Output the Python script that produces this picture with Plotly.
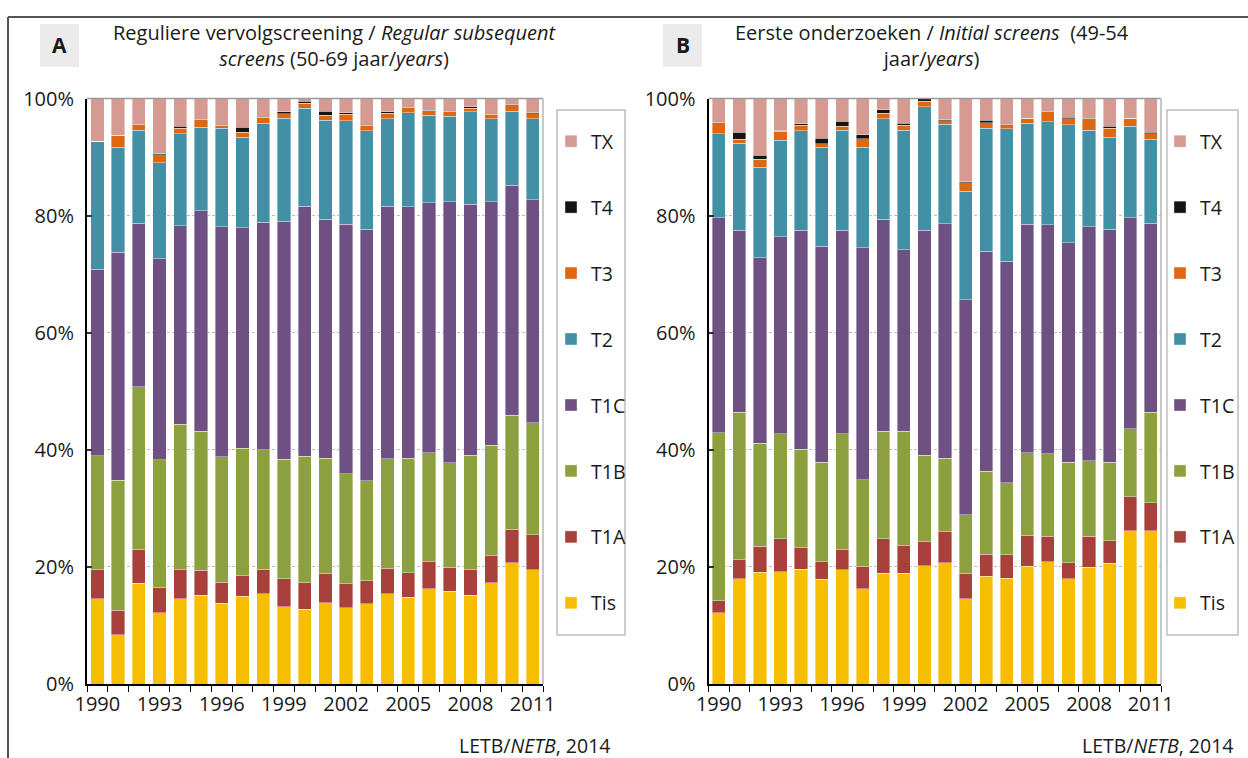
import plotly.graph_objects as go

YEARS = list(range(1990, 2012))
TICK_YEARS = [1990, 1993, 1996, 1999, 2002, 2005, 2008, 2011]
Y_TICKS = [0, 20, 40, 60, 80, 100]
Y_TICKTEXT = ["0%", "20%", "40%", "60%", "80%", "100%"]
CATS = ["Tis", "T1A", "T1B", "T1C", "T2", "T3", "T4", "TX"]
COLORS = ["#F5BE00", "#A8403C", "#8DA03F", "#6E5082", "#4390A6", "#DE6712", "#141414", "#D59B93"]

# Panel A: Regular subsequent screens (percent)
A_TIS = [14.6, 8.4, 17.2, 12.2, 14.6, 15.2, 13.8, 15.0, 15.4, 13.2, 12.8, 13.9, 13.0, 13.7, 15.4, 14.8, 16.3, 15.8, 15.2, 17.3, 20.7, 19.5]
A_T1A = [4.9, 4.2, 5.8, 4.3, 4.9, 4.2, 3.6, 3.5, 4.2, 4.8, 4.5, 5.0, 4.1, 3.9, 4.4, 4.2, 4.6, 4.1, 4.3, 4.6, 5.7, 6.0]
A_T1B = [19.5, 22.2, 27.8, 21.8, 24.9, 23.8, 21.4, 21.8, 20.4, 20.4, 21.6, 19.7, 18.8, 17.1, 18.7, 19.6, 18.6, 17.9, 19.6, 18.9, 19.5, 19.1]
A_T1C = [31.8, 38.9, 27.9, 34.3, 33.9, 37.6, 39.3, 37.6, 38.9, 40.6, 42.7, 40.8, 42.6, 43.0, 43.1, 42.9, 42.7, 44.6, 42.8, 41.6, 39.3, 38.1]
A_T2 = [21.9, 18.0, 15.9, 16.4, 15.7, 14.3, 16.8, 15.5, 16.9, 17.6, 16.7, 16.9, 17.7, 16.8, 14.9, 16.1, 14.9, 14.6, 15.8, 14.1, 12.6, 13.8]
A_T3 = [0.0, 2.0, 0.9, 1.4, 0.9, 1.3, 0.5, 0.8, 1.0, 0.8, 0.9, 0.8, 1.1, 0.9, 1.0, 0.8, 0.8, 0.7, 0.6, 0.8, 1.1, 0.9]
A_T4 = [0.0, 0.0, 0.0, 0.2, 0.4, 0.0, 0.2, 0.9, 0.2, 0.3, 0.3, 0.7, 0.3, 0.2, 0.2, 0.1, 0.1, 0.1, 0.3, 0.2, 0.1, 0.2]
A_TX = [7.3, 6.3, 4.5, 9.4, 4.7, 3.6, 4.4, 4.9, 3.0, 2.3, 0.5, 2.2, 2.4, 4.4, 2.3, 1.5, 2.1, 2.2, 1.4, 2.5, 1.0, 2.4]

# Panel B: Initial screens (percent)
B_TIS = [12.2, 18.0, 19.1, 19.2, 19.6, 17.9, 19.5, 16.3, 18.9, 18.9, 20.2, 20.7, 14.6, 18.4, 18.1, 20.1, 20.9, 18.0, 19.9, 20.6, 26.2, 26.2]
B_T1A = [2.0, 3.2, 4.4, 5.6, 3.7, 3.0, 3.4, 3.8, 5.9, 4.7, 4.1, 5.3, 4.3, 3.8, 4.0, 5.3, 4.3, 2.7, 5.3, 3.9, 5.8, 4.8]
B_T1B = [28.7, 25.2, 17.6, 17.9, 16.8, 17.0, 19.8, 14.8, 18.4, 19.6, 14.8, 12.6, 10.0, 14.1, 12.3, 14.1, 14.1, 17.2, 12.9, 13.4, 11.6, 15.4]
B_T1C = [36.7, 31.1, 31.7, 33.7, 37.4, 36.9, 34.8, 39.6, 36.2, 31.0, 38.4, 40.0, 36.7, 37.6, 37.8, 39.0, 39.1, 37.5, 40.0, 39.8, 36.0, 32.3]
B_T2 = [14.4, 14.9, 15.5, 16.5, 17.0, 16.9, 17.1, 17.2, 17.1, 20.4, 21.1, 17.0, 18.6, 21.0, 22.6, 17.3, 17.6, 20.1, 16.5, 15.7, 15.7, 14.3]
B_T3 = [1.9, 0.6, 1.3, 1.5, 0.9, 0.6, 0.7, 1.4, 1.0, 0.8, 0.9, 0.6, 1.4, 1.0, 0.7, 0.8, 1.7, 1.0, 1.9, 1.5, 1.3, 1.0]
B_T4 = [0.0, 1.2, 0.7, 0.1, 0.3, 0.9, 0.8, 0.7, 0.6, 0.4, 0.5, 0.2, 0.2, 0.4, 0.1, 0.0, 0.1, 0.3, 0.1, 0.4, 0.0, 0.2]
B_TX = [4.1, 5.8, 9.7, 5.5, 4.3, 6.8, 3.9, 6.2, 1.9, 4.2, 0.0, 3.6, 14.2, 3.7, 4.4, 3.4, 2.2, 3.2, 3.4, 4.7, 3.4, 5.8]

A_SERIES = [A_TIS, A_T1A, A_T1B, A_T1C, A_T2, A_T3, A_T4, A_TX]
B_SERIES = [B_TIS, B_T1A, B_T1B, B_T1C, B_T2, B_T3, B_T4, B_TX]

W, H = 1248, 758
FONT = "Open Sans"
TXT = "#1a1a1a"


def px(x):
    return x / W


def py(y):
    return 1 - y / H


fig = go.Figure()
for panel, series, xa, ya, leg in [("A", A_SERIES, "x", "y", "legend"), ("B", B_SERIES, "x2", "y2", "legend2")]:
    for i, (name, vals, col) in enumerate(zip(CATS, series, COLORS)):
        fig.add_trace(go.Bar(
            x=YEARS, y=vals, name=name, xaxis=xa, yaxis=ya,
            marker=dict(color=col, line=dict(color="rgba(255,255,255,0.55)", width=0.7)),
            legend=leg, legendgroup=panel + name, legendrank=100 - i, showlegend=True,
        ))

axis_font = dict(family=FONT, size=20, color=TXT)
xcommon = dict(
    range=[1989.5, 2011.5], tickvals=TICK_YEARS, ticks="", showgrid=False,
    showline=True, linecolor="black", linewidth=2, tickfont=axis_font,
    ticklabelstandoff=1,
    minor=dict(ticks="outside", tick0=1989.5, dtick=1, ticklen=6, tickcolor="black", tickwidth=1, showgrid=False),
    zeroline=False, fixedrange=True,
)
ycommon = dict(
    range=[0, 100], tickmode="array", tickvals=Y_TICKS, ticktext=Y_TICKTEXT,
    showgrid=True, gridcolor="#bdbdbd", griddash="3px,2px", gridwidth=1,
    showline=True, linecolor="black", linewidth=2,
    ticks="inside", ticklen=5, tickcolor="#333", tickwidth=2,
    tickfont=axis_font, ticklabelstandoff=7, zeroline=False, fixedrange=True,
)

ydom = [py(684), py(98.5)]
leg_common = dict(xanchor="left", yanchor="top", traceorder="grouped", tracegroupgap=37.6, itemwidth=30,
                  font=dict(family=FONT, size=19.5, color=TXT), bgcolor="rgba(0,0,0,0)", borderwidth=0)
fig.update_layout(
    width=W, height=H, margin=dict(l=0, r=0, t=0, b=0, autoexpand=False),
    paper_bgcolor="white", plot_bgcolor="white",
    barmode="stack", bargap=0.36,
    font=dict(family=FONT, color=TXT),
    xaxis=dict(domain=[px(87), px(543)], anchor="y", **xcommon),
    yaxis=dict(domain=ydom, anchor="x", **ycommon),
    xaxis2=dict(domain=[px(708.5), px(1161)], anchor="y2", **xcommon),
    yaxis2=dict(domain=ydom, anchor="x2", **ycommon),
    legend=dict(x=px(551), y=py(122), **leg_common),
    legend2=dict(x=px(1160), y=py(122), **leg_common),
)

shapes = []
# outer frame
shapes.append(dict(type="line", xref="paper", yref="paper", x0=px(8), x1=1, y0=py(17), y1=py(17), line=dict(color="#555", width=2)))
shapes.append(dict(type="line", xref="paper", yref="paper", x0=px(8), x1=px(8), y0=py(17), y1=0, line=dict(color="#555", width=2)))
# plot area top/right borders
for xr, yr in [("x", "y"), ("x2", "y2")]:
    shapes.append(dict(type="line", xref=xr + " domain", yref=yr + " domain", x0=0, x1=1, y0=1, y1=1, line=dict(color="#9a9a9a", width=1.5), layer="above"))
    shapes.append(dict(type="line", xref=xr + " domain", yref=yr + " domain", x0=1, x1=1, y0=0, y1=1, line=dict(color="#b5b5b5", width=1.5), layer="above"))
# legend boxes
for x0, x1 in [(557, 625), (1167, 1238)]:
    shapes.append(dict(type="rect", xref="paper", yref="paper", x0=px(x0), x1=px(x1), y0=py(635), y1=py(110), line=dict(color="#bdbdbd", width=1.5), fillcolor="rgba(0,0,0,0)"))
# panel letter boxes
for x0 in [40, 663]:
    shapes.append(dict(type="rect", xref="paper", yref="paper", x0=px(x0), x1=px(x0 + 39), y0=py(67), y1=py(24), line=dict(width=0), fillcolor="#ebebeb", layer="below"))


def ann(text, x, y, size, xanchor="center"):
    return dict(text=text, x=px(x), y=py(y), xref="paper", yref="paper", showarrow=False,
                xanchor=xanchor, yanchor="middle", align="center",
                font=dict(family=FONT, size=size, color=TXT))


annotations = [
    ann("<b>A</b>", 59.5, 45.5, 21),
    ann("<b>B</b>", 682.5, 45.5, 21),
    ann("Reguliere vervolgscreening / <i>Regular subsequent</i><br><i>screens</i> (50-69 jaar/<i>years</i>)", 334, 45.5, 20),
    ann("Eerste onderzoeken / <i>Initial screens</i>  (49-54<br>jaar/<i>years</i>)", 932, 45.5, 20),
    ann("LETB/<i>NETB</i>, 2014", 612, 745, 19.5, "right"),
    ann("LETB/<i>NETB</i>, 2014", 1235, 745, 19.5, "right"),
]
fig.update_layout(shapes=shapes, annotations=annotations)

fig.write_html("out.html", config={"displayModeBar": False},
               post_script="document.body.style.margin='0';document.body.style.overflow='hidden';")
